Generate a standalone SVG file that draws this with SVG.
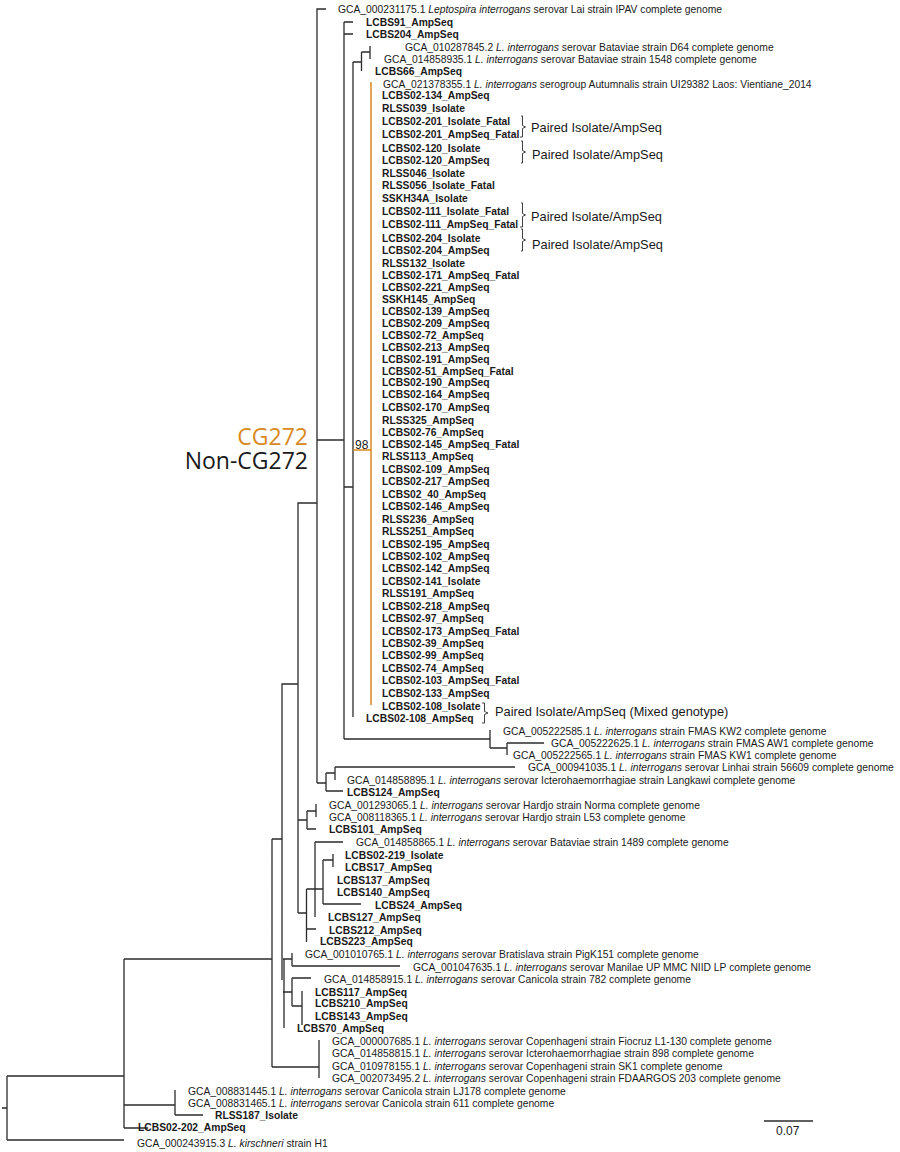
<svg xmlns="http://www.w3.org/2000/svg" width="900" height="1152" viewBox="0 0 900 1152">
<style>
text{font-family:"Liberation Sans",Arial,sans-serif;fill:#1a1a1a}
.g{font-size:10.3px}
.b{font-size:10.3px;font-weight:bold}
.i{font-style:italic}
.p{font-size:12.8px}
.t{fill:none;stroke:#2b2b2b;stroke-width:1.3}
.o{fill:none;stroke:#d98a1f;stroke-width:1.5}
.br{fill:none;stroke:#2b2b2b;stroke-width:.9}
.cg{font-family:"Open Sans",sans-serif;font-size:23px;text-anchor:end}
</style>
<rect width="900" height="1152" fill="#fff"/>
<g id="connectors">
<path class="t" d="M326 9H317V783M317 440H344M344 22V739M344 22H353M344 34H353M344 487H353M353 62V717M353 62H361.500M361.500 52V71M361.500 52H370M370 46V59M344 739H490M490 730V748M490 748H507M507 743V755M507 743H544M317 783H326M326 773V791M326 773H335M335 767V780M335 767H515M326 791H343M317 503H298V913M298 684H282V980M272 839H282M272 839V1067M272 1067H319M319 1040V1078M298 820H307M307 811V829M307 811H316M316 804V817M307 829H316M298 913H306.500M306.500 889V942M306.500 889H323M315 842V917M315 842H343M323 860V904M323 904H361M323 860H333M333 854V867M306.500 929H316M124 959H272M284 959V1028M283 959H292M292 953V966M292 966H400M283 992H292M292 978V1006M292 978H311M292 1006H302M302 991V1025M124 959V1128M124 1128H148M124 1105H175M175 1090V1115M175 1115H203M124 1076H7M7 1076V1140M7 1140H124M2 1108H7"/>
<path class="o" d="M371 82V705M353 450H371"/>
<path class="br" d="M521 116H522.500V125.500L525.500 127L522.500 128.500V137H520M521 141H522.500V150.500L525.500 152L522.500 153.500V163H521M521 203H522.500V213.500L525.500 215L522.500 216.500V227H520M521 229H522.500V238.500L525.500 240L522.500 241.500V251H521M482 703H484.500V711.500L488 713L484.500 714.500V723H482"/>
<path class="t" d="M764 1121H813"/>
</g>
<g id="annotations">
<text class="cg" x="308" y="445" style="fill:#d98a1f">CG272</text>
<text class="cg" x="308" y="469">Non-CG272</text>
<text x="355" y="449" font-size="12">98</text>
<text class="p" x="531" y="132">Paired Isolate/AmpSeq</text>
<text class="p" x="532" y="159">Paired Isolate/AmpSeq</text>
<text class="p" x="531" y="221">Paired Isolate/AmpSeq</text>
<text class="p" x="532" y="249">Paired Isolate/AmpSeq</text>
<text class="p" x="495" y="716">Paired Isolate/AmpSeq (Mixed genotype)</text>
<text x="776" y="1135" font-size="12">0.07</text>
</g>
<g id="tips-reference">
<g id="n-231175"><text class="g" x="338" y="12.500">GCA_000231175.1 <tspan class="i">Leptospira interrogans</tspan> serovar Lai strain IPAV complete genome</text></g>
<g id="n-10287845"><text class="g" x="405" y="50.500">GCA_010287845.2 <tspan class="i">L. interrogans</tspan> serovar Bataviae strain D64 complete genome</text></g>
<g id="n-14858935"><text class="g" x="384" y="62.500">GCA_014858935.1 <tspan class="i">L. interrogans</tspan> serovar Bataviae strain 1548 complete genome</text></g>
<g id="n-21378355"><text class="g" x="383" y="87.500">GCA_021378355.1 <tspan class="i">L. interrogans</tspan> serogroup Autumnalis strain UI29382 Laos: Vientiane_2014</text></g>
<g id="n-5222585"><text class="g" x="503" y="734.500">GCA_005222585.1 <tspan class="i">L. interrogans</tspan> strain FMAS KW2 complete genome</text></g>
<g id="n-5222625"><text class="g" x="551" y="746.500">GCA_005222625.1 <tspan class="i">L. interrogans</tspan> strain FMAS AW1 complete genome</text></g>
<g id="n-5222565"><text class="g" x="513" y="758.500">GCA_005222565.1 <tspan class="i">L. interrogans</tspan> strain FMAS KW1 complete genome</text></g>
<g id="n-941035"><text class="g" x="528" y="770.500">GCA_000941035.1 <tspan class="i">L. interrogans</tspan> serovar Linhai strain 56609 complete genome</text></g>
<g id="n-14858895"><text class="g" x="347" y="783.500">GCA_014858895.1 <tspan class="i">L. interrogans</tspan> serovar Icterohaemorrhagiae strain Langkawi complete genome</text></g>
<g id="n-1293065"><text class="g" x="329" y="808.500">GCA_001293065.1 <tspan class="i">L. interrogans</tspan> serovar Hardjo strain Norma complete genome</text></g>
<g id="n-8118365"><text class="g" x="329" y="820.500">GCA_008118365.1 <tspan class="i">L. interrogans</tspan> serovar Hardjo strain L53 complete genome</text></g>
<g id="n-14858865"><text class="g" x="356" y="845.500">GCA_014858865.1 <tspan class="i">L. interrogans</tspan> serovar Bataviae strain 1489 complete genome</text></g>
<g id="n-1010765"><text class="g" x="305" y="957.500">GCA_001010765.1 <tspan class="i">L. interrogans</tspan> serovar Bratislava strain PigK151 complete genome</text></g>
<g id="n-1047635"><text class="g" x="413" y="970.500">GCA_001047635.1 <tspan class="i">L. interrogans</tspan> serovar Manilae UP MMC NIID LP complete genome</text></g>
<g id="n-14858915"><text class="g" x="324" y="982.500">GCA_014858915.1 <tspan class="i">L. interrogans</tspan> serovar Canicola strain 782 complete genome</text></g>
<g id="n-7685"><text class="g" x="332" y="1044.500">GCA_000007685.1 <tspan class="i">L. interrogans</tspan> serovar Copenhageni strain Fiocruz L1-130 complete genome</text></g>
<g id="n-14858815"><text class="g" x="332" y="1056.500">GCA_014858815.1 <tspan class="i">L. interrogans</tspan> serovar Icterohaemorrhagiae strain 898 complete genome</text></g>
<g id="n-10978155"><text class="g" x="332" y="1069.500">GCA_010978155.1 <tspan class="i">L. interrogans</tspan> serovar Copenhageni strain SK1 complete genome</text></g>
<g id="n-2073495"><text class="g" x="332" y="1081.500">GCA_002073495.2 <tspan class="i">L. interrogans</tspan> serovar Copenhageni strain FDAARGOS 203 complete genome</text></g>
<g id="n-8831445"><text class="g" x="188" y="1094.500">GCA_008831445.1 <tspan class="i">L. interrogans</tspan> serovar Canicola strain LJ178 complete genome</text></g>
<g id="n-8831465"><text class="g" x="188" y="1106.500">GCA_008831465.1 <tspan class="i">L. interrogans</tspan> serovar Canicola strain 611 complete genome</text></g>
<g id="n-243915"><text class="g" x="137" y="1146.500">GCA_000243915.3 <tspan class="i">L. kirschneri</tspan> strain H1</text></g>
</g>
<g id="tips-study">
<g id="s1"><text class="b" x="366" y="25.500">LCBS91_AmpSeq</text></g>
<g id="s2"><text class="b" x="366" y="37.500">LCBS204_AmpSeq</text></g>
<g id="s3"><text class="b" x="375" y="75">LCBS66_AmpSeq</text></g>
<g id="s4"><text class="b" x="382" y="99">LCBS02-134_AmpSeq</text></g>
<g id="s5"><text class="b" x="382" y="111.500">RLSS039_Isolate</text></g>
<g id="s6"><text class="b" x="382" y="124.500">LCBS02-201_Isolate_Fatal</text></g>
<g id="s7"><text class="b" x="382" y="137.500">LCBS02-201_AmpSeq_Fatal</text></g>
<g id="s8"><text class="b" x="382" y="151.500">LCBS02-120_Isolate</text></g>
<g id="s9"><text class="b" x="382" y="164">LCBS02-120_AmpSeq</text></g>
<g id="s10"><text class="b" x="382" y="176.500">RLSS046_Isolate</text></g>
<g id="s11"><text class="b" x="382" y="189">RLSS056_Isolate_Fatal</text></g>
<g id="s12"><text class="b" x="382" y="201.500">SSKH34A_Isolate</text></g>
<g id="s13"><text class="b" x="382" y="214.500">LCBS02-111_Isolate_Fatal</text></g>
<g id="s14"><text class="b" x="382" y="227.500">LCBS02-111_AmpSeq_Fatal</text></g>
<g id="s15"><text class="b" x="382" y="241.500">LCBS02-204_Isolate</text></g>
<g id="s16"><text class="b" x="382" y="254">LCBS02-204_AmpSeq</text></g>
<g id="s17"><text class="b" x="382" y="266.500">RLSS132_Isolate</text></g>
<g id="s18"><text class="b" x="382" y="278.500">LCBS02-171_AmpSeq_Fatal</text></g>
<g id="s19"><text class="b" x="382" y="290.500">LCBS02-221_AmpSeq</text></g>
<g id="s20"><text class="b" x="382" y="302.500">SSKH145_AmpSeq</text></g>
<g id="s21"><text class="b" x="382" y="314.500">LCBS02-139_AmpSeq</text></g>
<g id="s22"><text class="b" x="382" y="326.500">LCBS02-209_AmpSeq</text></g>
<g id="s23"><text class="b" x="382" y="338.500">LCBS02-72_AmpSeq</text></g>
<g id="s24"><text class="b" x="382" y="350.500">LCBS02-213_AmpSeq</text></g>
<g id="s25"><text class="b" x="382" y="362.500">LCBS02-191_AmpSeq</text></g>
<g id="s26"><text class="b" x="382" y="374.500">LCBS02-51_AmpSeq_Fatal</text></g>
<g id="s27"><text class="b" x="382" y="385.500">LCBS02-190_AmpSeq</text></g>
<g id="s28"><text class="b" x="382" y="397.500">LCBS02-164_AmpSeq</text></g>
<g id="s29"><text class="b" x="382" y="411">LCBS02-170_AmpSeq</text></g>
<g id="s30"><text class="b" x="382" y="423.500">RLSS325_AmpSeq</text></g>
<g id="s31"><text class="b" x="382" y="435.500">LCBS02-76_AmpSeq</text></g>
<g id="s32"><text class="b" x="382" y="448">LCBS02-145_AmpSeq_Fatal</text></g>
<g id="s33"><text class="b" x="382" y="460">RLSS113_AmpSeq</text></g>
<g id="s34"><text class="b" x="382" y="473">LCBS02-109_AmpSeq</text></g>
<g id="s35"><text class="b" x="382" y="485">LCBS02-217_AmpSeq</text></g>
<g id="s36"><text class="b" x="382" y="497.500">LCBS02_40_AmpSeq</text></g>
<g id="s37"><text class="b" x="382" y="509.500">LCBS02-146_AmpSeq</text></g>
<g id="s38"><text class="b" x="382" y="522.500">RLSS236_AmpSeq</text></g>
<g id="s39"><text class="b" x="382" y="535">RLSS251_AmpSeq</text></g>
<g id="s40"><text class="b" x="382" y="547.500">LCBS02-195_AmpSeq</text></g>
<g id="s41"><text class="b" x="382" y="560">LCBS02-102_AmpSeq</text></g>
<g id="s42"><text class="b" x="382" y="572">LCBS02-142_AmpSeq</text></g>
<g id="s43"><text class="b" x="382" y="585">LCBS02-141_Isolate</text></g>
<g id="s44"><text class="b" x="382" y="597">RLSS191_AmpSeq</text></g>
<g id="s45"><text class="b" x="382" y="610">LCBS02-218_AmpSeq</text></g>
<g id="s46"><text class="b" x="382" y="622">LCBS02-97_AmpSeq</text></g>
<g id="s47"><text class="b" x="382" y="635">LCBS02-173_AmpSeq_Fatal</text></g>
<g id="s48"><text class="b" x="382" y="647">LCBS02-39_AmpSeq</text></g>
<g id="s49"><text class="b" x="382" y="659">LCBS02-99_AmpSeq</text></g>
<g id="s50"><text class="b" x="382" y="672">LCBS02-74_AmpSeq</text></g>
<g id="s51"><text class="b" x="382" y="684">LCBS02-103_AmpSeq_Fatal</text></g>
<g id="s52"><text class="b" x="382" y="697">LCBS02-133_AmpSeq</text></g>
<g id="s53"><text class="b" x="382" y="709.500">LCBS02-108_Isolate</text></g>
<g id="s54"><text class="b" x="366" y="722">LCBS02-108_AmpSeq</text></g>
<g id="s55"><text class="b" x="347" y="796">LCBS124_AmpSeq</text></g>
<g id="s56"><text class="b" x="329" y="833">LCBS101_AmpSeq</text></g>
<g id="s57"><text class="b" x="345" y="858.500">LCBS02-219_Isolate</text></g>
<g id="s58"><text class="b" x="345" y="871">LCBS17_AmpSeq</text></g>
<g id="s59"><text class="b" x="337" y="883.500">LCBS137_AmpSeq</text></g>
<g id="s60"><text class="b" x="337" y="896">LCBS140_AmpSeq</text></g>
<g id="s61"><text class="b" x="375" y="908.500">LCBS24_AmpSeq</text></g>
<g id="s62"><text class="b" x="328" y="921">LCBS127_AmpSeq</text></g>
<g id="s63"><text class="b" x="329" y="933.500">LCBS212_AmpSeq</text></g>
<g id="s64"><text class="b" x="320" y="945">LCBS223_AmpSeq</text></g>
<g id="s65"><text class="b" x="315" y="995.500">LCBS117_AmpSeq</text></g>
<g id="s66"><text class="b" x="315" y="1007">LCBS210_AmpSeq</text></g>
<g id="s67"><text class="b" x="315" y="1019.500">LCBS143_AmpSeq</text></g>
<g id="s68"><text class="b" x="297" y="1032">LCBS70_AmpSeq</text></g>
<g id="s69"><text class="b" x="215" y="1119">RLSS187_Isolate</text></g>
<g id="s70"><text class="b" x="138" y="1131">LCBS02-202_AmpSeq</text></g>
</g>
</svg>
